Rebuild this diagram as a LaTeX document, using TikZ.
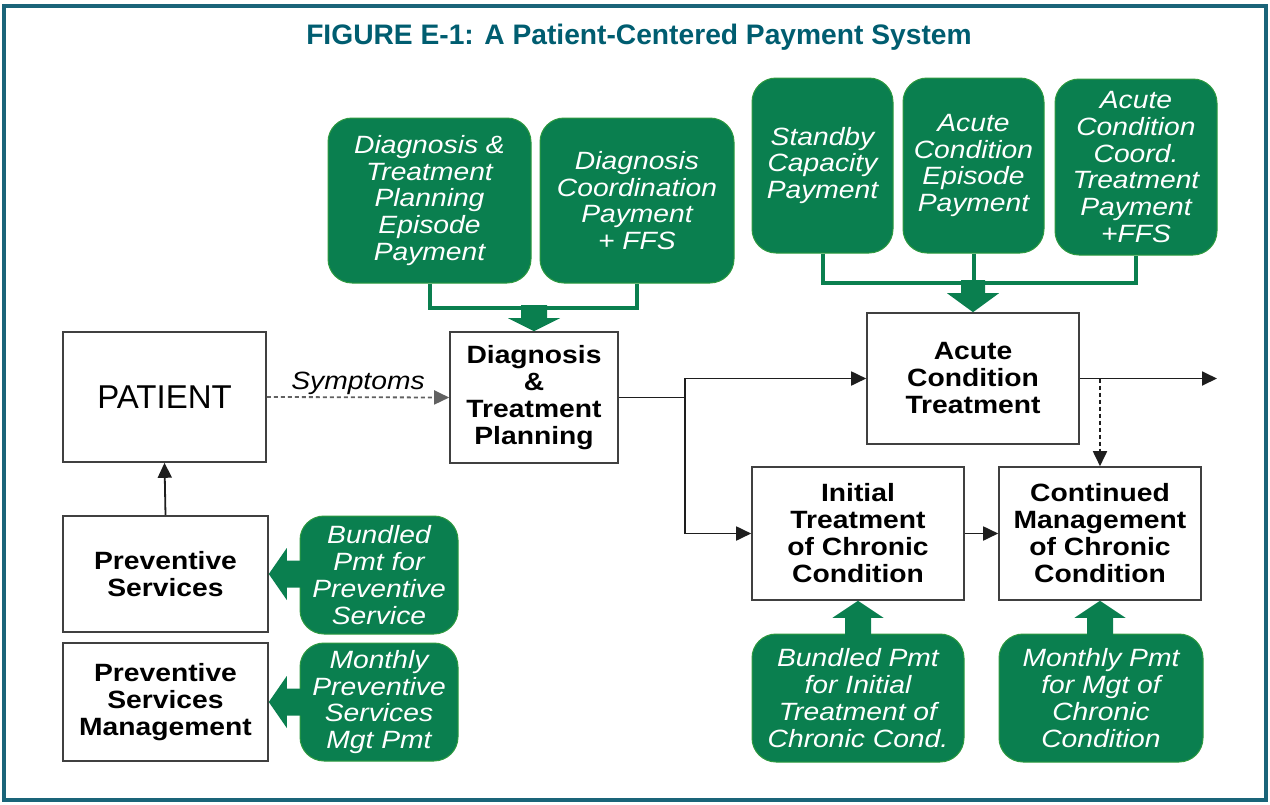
\documentclass[tikz,border=0pt]{standalone}
\usepackage{fontspec}
\setmainfont{Liberation Sans}[FakeStretch=1.13]
\newfontfamily\titlefont{Liberation Sans}
\usetikzlibrary{arrows.meta}
\definecolor{pgreen}{HTML}{0A7F4F}
\definecolor{pgedge}{HTML}{2E9A40}
\definecolor{pteal}{HTML}{005D70}
\definecolor{frameteal}{HTML}{1A6479}
\definecolor{edge}{HTML}{1E1E1E}
\begin{document}
\begin{tikzpicture}[x=1pt,y=-1pt,
  box/.style={draw=edge!85,line width=1.6pt,fill=white,align=center,inner sep=0pt,
    font=\fontsize{25}{27}\selectfont\bfseries},
  gbox/.style={fill=pgreen,draw=pgedge,line width=1pt,rounded corners=24pt,align=center,
    inner sep=0pt,text=white,font=\fontsize{25}{26.8}\selectfont\itshape},
  arr/.style={draw=edge,line width=1.8pt,-{Triangle[length=15pt,width=14pt]}},
  conn/.style={draw=edge,line width=1.8pt},
  gline/.style={draw=pgreen,line width=4pt},
  garrow/.style={fill=pgreen}]
\useasboundingbox (0,0) rectangle (1270,804);
\draw[frameteal,line width=3.5pt] (4,6) rectangle (1266,800);
\node[anchor=base,text=pteal,font=\titlefont\fontsize{28.2}{32}\selectfont\bfseries] (title) at (639,44) {FIGURE E-1: A Patient-Centered Payment System};

% main boxes
\node[box,minimum width=203pt,minimum height=130pt,font=\titlefont\fontsize{33}{36}\selectfont] (patient) at (164.5,397) {PATIENT};
\node[box,minimum width=168pt,minimum height=131pt] (dt) at (534,397.5) {Diagnosis\\\&\\Treatment\\Planning};
\node[box,minimum width=212pt,minimum height=131pt] (acute) at (973,378.5) {Acute\\Condition\\Treatment};
\node[box,minimum width=212pt,minimum height=133pt] (initial) at (858,533.5) {Initial\\Treatment\\of Chronic\\Condition};
\node[box,minimum width=202pt,minimum height=133pt] (cont) at (1100,533.5) {Continued\\Management\\of Chronic\\Condition};
\node[box,minimum width=205pt,minimum height=116pt] (ps) at (165.5,574) {Preventive\\Services};
\node[box,minimum width=205pt,minimum height=118pt] (psm) at (165.5,702) {Preventive\\Services\\Management};

% green payment boxes
\node[gbox,minimum width=203pt,minimum height=165pt] (g1) at (429.5,200.5) {Diagnosis \&\\Treatment\\Planning\\Episode\\Payment};
\node[gbox,minimum width=194pt,minimum height=165pt] (g2) at (637,200.5) {Diagnosis\\Coordination\\Payment\\+ FFS};
\node[gbox,minimum width=141pt,minimum height=175pt] (g3) at (822.5,165.5) {Standby\\Capacity\\Payment};
\node[gbox,minimum width=141pt,minimum height=175pt] (g4) at (973.5,165.5) {Acute\\Condition\\Episode\\Payment};
\node[gbox,minimum width=162pt,minimum height=176pt] (g5) at (1136,167) {Acute\\Condition\\Coord.\\Treatment\\Payment\\+FFS};
\node[gbox,minimum width=158pt,minimum height=118pt] (g6) at (379,575) {Bundled\\Pmt for\\Preventive\\Service};
\node[gbox,minimum width=158pt,minimum height=118pt] (g7) at (379,702) {Monthly\\Preventive\\Services\\Mgt Pmt};
\node[gbox,minimum width=212pt,minimum height=128pt] (g8) at (858,698) {Bundled Pmt\\for Initial\\Treatment of\\Chronic Cond.};
\node[gbox,minimum width=204pt,minimum height=128pt] (g9) at (1101,698) {Monthly Pmt\\for Mgt of\\Chronic\\Condition};

% green brackets and block arrows
\draw[gline] (g1.south) -- ++(0,24) -| (g2.south);
\fill[garrow] (dt.north) -- ++(-26,-13) -- ++(13,0) -- ++(0,-13) -- ++(26,0) -- ++(0,13) -- ++(13,0) -- cycle;
\draw[gline] (g3.south) -- ++(0,29) -| (g5.south);
\draw[gline] (g4.south) -- ++(0,29);
\fill[garrow] (acute.north) -- ++(-26,-19) -- ++(14,0) -- ++(0,-13) -- ++(24,0) -- ++(0,13) -- ++(14,0) -- cycle;
\fill[garrow] (initial.south) -- ++(-25.5,17) -- ++(12.5,0) -- ++(0,17) -- ++(26,0) -- ++(0,-17) -- ++(12.5,0) -- cycle;
\fill[garrow] (cont.south) -- ++(-25.5,17) -- ++(12.5,0) -- ++(0,17) -- ++(26,0) -- ++(0,-17) -- ++(12.5,0) -- cycle;
\fill[garrow] (ps.east) -- ++(18,-26) -- ++(0,12.5) -- ++(14,0) -- ++(0,27) -- ++(-14,0) -- ++(0,12.5) -- cycle;
\fill[garrow] (psm.east) -- ++(18,-26) -- ++(0,12.5) -- ++(14,0) -- ++(0,27) -- ++(-14,0) -- ++(0,12.5) -- cycle;

% flow connectors
\draw[arr,dash pattern=on 4pt off 3pt,draw=edge!70] (patient.east) -- node[above=-2pt,text=black,font=\fontsize{25}{27}\selectfont\itshape] (symlabel) {Symptoms} (dt.west);
\coordinate (split) at (685,397.5);
\draw[conn] (dt.east) -- (split);
\draw[arr] (split) |- (acute.west);
\draw[arr] (split) |- (initial.west);
\coordinate (outend) at (1217,378.5);
\draw[arr] (acute.east) -- (outend);
\coordinate (dashstart) at (cont.north |- acute.east);
\draw[arr,dash pattern=on 4pt off 3pt] (dashstart) -- (cont.north);
\draw[arr] (initial.east) -- (cont.west);
\draw[arr] (ps.north) -- (patient.south);
\end{tikzpicture}
\end{document}
